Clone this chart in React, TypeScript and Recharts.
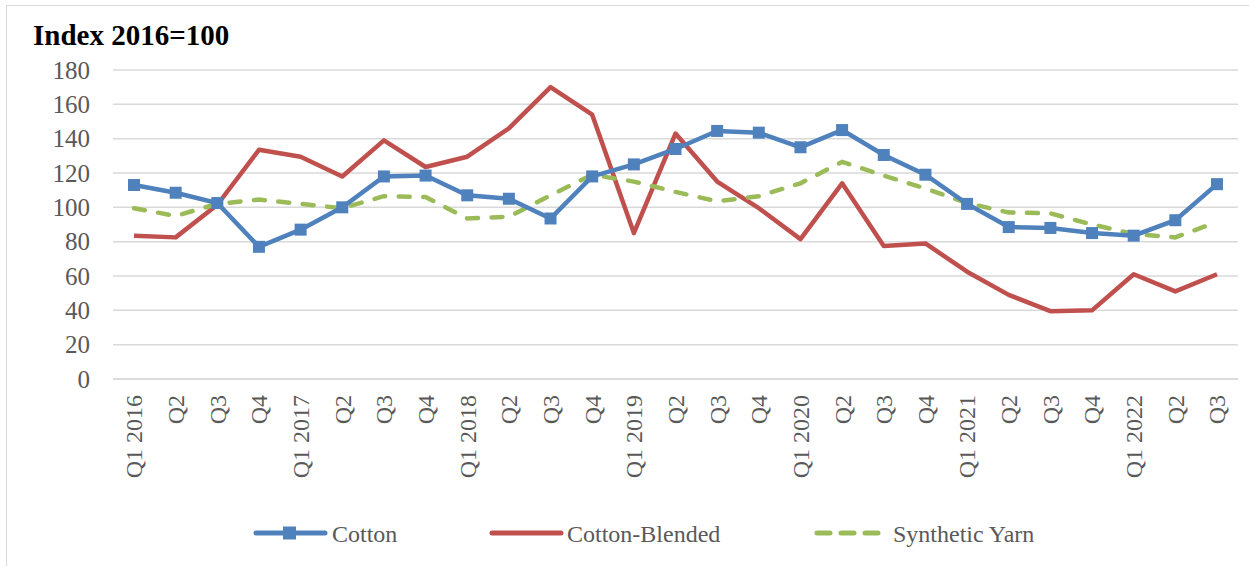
import { LineChart, Line, XAxis, YAxis, CartesianGrid } from "recharts";

const quarters = [
  "Q1 2016", "Q2", "Q3", "Q4",
  "Q1 2017", "Q2", "Q3", "Q4",
  "Q1 2018", "Q2", "Q3", "Q4",
  "Q1 2019", "Q2", "Q3", "Q4",
  "Q1 2020", "Q2", "Q3", "Q4",
  "Q1 2021", "Q2", "Q3", "Q4",
  "Q1 2022", "Q2", "Q3",
];

const cotton = [
  113, 108.5, 102.5, 77, 87, 100, 118, 118.5, 107, 105, 93.5, 118, 125, 134,
  144.5, 143.5, 135, 145, 130.5, 119, 102, 88.5, 88, 85, 83.5, 92.5, 113.5,
];

const cottonBlended = [
  83.5, 82.5, 101.5, 133.5, 129.5, 118, 139, 123.5, 129.5, 146, 170, 154, 85,
  143, 115, 99.5, 81.5, 114, 77.5, 79, 62.5, 49, 39.5, 40, 61, 51, 61,
];

const syntheticYarn = [
  99.5, 95, 102, 104.5, 102, 99.5, 106.5, 106, 93.5, 94.5, 107, 119, 115, 109,
  103.5, 106.5, 114, 126.5, 118.5, 111, 102.5, 97, 96.5, 90, 84.5, 82.5, 91.5,
];

const yTicks = [0, 20, 40, 60, 80, 100, 120, 140, 160, 180];

const data = quarters.map((q, i) => ({
  q,
  cotton: cotton[i],
  blended: cottonBlended[i],
  synthetic: syntheticYarn[i],
}));

const FONT = "'Liberation Serif', 'Times New Roman', serif";
const BLUE = "#4f81bd";
const RED = "#c0504d";
const GREEN = "#9bbb59";
const GRID = "#d9d9d9";
const TEXT = "#595959";

function XTick(props: any) {
  const { x, y, payload } = props;
  return (
    <text
      transform={`translate(${x},${y}) rotate(-90)`}
      textAnchor="end"
      dy="0.35em"
      fontFamily={FONT}
      fontSize={24}
      fill={TEXT}
    >
      {payload.value}
    </text>
  );
}

function YTick(props: any) {
  const { x, y, payload } = props;
  return (
    <text x={x} y={y} dy="0.35em" textAnchor="end" fontFamily={FONT} fontSize={25} fill={TEXT}>
      {payload.value}
    </text>
  );
}

function SquareDot(props: any) {
  const { cx, cy } = props;
  if (cx == null || cy == null) return null;
  return <rect x={cx - 6} y={cy - 6} width={12} height={12} fill={BLUE} />;
}

export default function App() {
  return (
    <div
      style={{
        position: "absolute",
        left: 0,
        top: 0,
        width: 1249,
        height: 566,
        overflow: "hidden",
        background: "#fff",
      }}
    >
      <div
        style={{
          position: "absolute",
          left: 6,
          top: 5,
          width: 1270,
          height: 600,
          border: `1.5px solid ${GRID}`,
          boxSizing: "border-box",
        }}
      />
      <div style={{ position: "absolute", left: 0, top: 0 }}>
        <LineChart
          width={1249}
          height={566}
          data={data}
          margin={{ top: 70, right: 11, bottom: 67, left: 0 }}
        >
          <CartesianGrid vertical={false} stroke={GRID} strokeWidth={1.5} />
          <XAxis
            dataKey="q"
            interval={0}
            height={120}
            padding={{ left: 21, right: 21 }}
            tickLine={false}
            tickSize={0}
            tickMargin={16}
            axisLine={{ stroke: GRID, strokeWidth: 1.5 }}
            tick={<XTick />}
          />
          <YAxis
            width={113}
            domain={[0, 180]}
            ticks={yTicks}
            axisLine={false}
            tickLine={false}
            tickSize={0}
            tickMargin={23}
            tick={<YTick />}
          />
          <Line
            dataKey="blended"
            stroke={RED}
            strokeWidth={4.5}
            dot={false}
            strokeLinejoin="round"
            isAnimationActive={false}
          />
          <Line
            dataKey="synthetic"
            stroke={GREEN}
            strokeWidth={4.5}
            strokeDasharray="11 13.5"
            strokeLinecap="round"
            dot={false}
            isAnimationActive={false}
          />
          <Line
            dataKey="cotton"
            stroke={BLUE}
            strokeWidth={4.5}
            dot={<SquareDot />}
            isAnimationActive={false}
          />
        </LineChart>
      </div>
      <svg style={{ position: "absolute", left: 0, top: 0 }} width={1249} height={566}>
        <text x={33} y={45} fontFamily={FONT} fontWeight="bold" fontSize={29} fill="#000">
          Index 2016=100
        </text>
        <line x1={256} y1={533} x2={325} y2={533} stroke={BLUE} strokeWidth={5} strokeLinecap="round" />
        <rect x={283} y={526.5} width={13} height={13} fill={BLUE} />
        <text x={332} y={541.5} fontFamily={FONT} fontSize={24} fill={TEXT}>
          Cotton
        </text>
        <line x1={492} y1={533} x2={561} y2={533} stroke={RED} strokeWidth={5} strokeLinecap="round" />
        <text x={567} y={541.5} fontFamily={FONT} fontSize={24} fill={TEXT}>
          Cotton-Blended
        </text>
        <line
          x1={817}
          y1={533}
          x2={879}
          y2={533}
          stroke={GREEN}
          strokeWidth={5}
          strokeLinecap="round"
          strokeDasharray="13 11"
        />
        <text x={893} y={541.5} fontFamily={FONT} fontSize={24} fill={TEXT}>
          Synthetic Yarn
        </text>
      </svg>
    </div>
  );
}
